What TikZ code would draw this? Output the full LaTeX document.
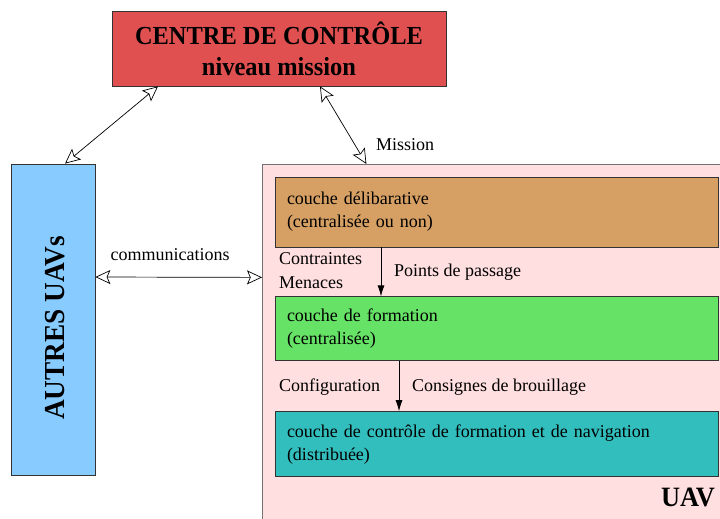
\documentclass[tikz,border=0pt]{standalone}
\usepackage{fontspec}
\setmainfont{Liberation Serif}
\newfontfamily\grasfont{Liberation Serif}[FakeStretch=0.94]
\usetikzlibrary{positioning,arrows.meta}

\definecolor{rougectl}{HTML}{E05050}
\definecolor{bleuuav}{HTML}{88CCFF}
\definecolor{roseuav}{HTML}{FFDFDF}
\definecolor{brundelib}{HTML}{D6A064}
\definecolor{vertform}{HTML}{66E266}
\definecolor{bleunav}{HTML}{33BEBE}

\begin{document}
\begin{tikzpicture}[x=1pt,y=-1pt,
	boite/.style={draw=black!80,line width=0.8pt,inner sep=0pt},
	couche/.style={boite,minimum width=443pt,inner xsep=12pt,text width=419pt,align=left,font=\fontsize{18}{23}\selectfont},
	double/.style={{Stealth[open,length=15pt,width=14pt,inset=3pt]}-{Stealth[open,length=15pt,width=14pt,inset=3pt]},line width=0.7pt},
	fleche/.style={-{Latex[length=11pt,width=7pt]},line width=0.7pt},
	txt/.style={font=\fontsize{18}{22}\selectfont,inner sep=0pt}]

	\clip (0,0) rectangle (720,519);
	\fill[white] (0,0) rectangle (720,519);

	\node[boite,fill=rougectl,minimum width=334pt,minimum height=75pt,align=center,
		font=\grasfont\bfseries\fontsize{26}{31}\selectfont] (centre) at (279,48.5) {CENTRE DE CONTRÔLE\\niveau mission};
	\node[boite,fill=bleuuav,minimum width=84pt,minimum height=311pt] (autres) at (53,319.5) {};
	\node[rotate=90,font=\grasfont\bfseries\fontsize{29}{30}\selectfont] (autreslbl) at (55,328) {AUTRES UAVs};

	\node[draw=black!55,line width=0.8pt,fill=roseuav,inner sep=0pt,minimum width=470pt,minimum height=370pt,
		anchor=north west] (uav) at (262,164) {};

	\node[couche,fill=brundelib,minimum height=70pt] (delib) at (496.5,212) {couche délibarative\\(centralisée ou non)};
	\node[couche,fill=vertform,minimum height=64pt] (form) [below=49pt of delib] {couche de formation\\(centralisée)};
	\node[couche,fill=bleunav,minimum height=65pt] (nav) [below=50pt of form] {couche de contrôle de formation et de navigation\\(distribuée)};

	\node[anchor=east,font=\grasfont\bfseries\fontsize{28}{30}\selectfont,inner sep=0pt] (uavlbl) at (715,497) {UAV};

	% liaisons
	\draw[double] ([xshift=-121pt]centre.south) -- ([xshift=12pt]autres.north);
	\draw[double] ([xshift=41pt]centre.south) -- ([xshift=-131pt]uav.north);
	\draw[double] ([yshift=42.5pt]autres.east) -- ([yshift=72pt]uav.west);

	\draw[fleche] ([xshift=-115.5pt]delib.south) -- ([xshift=-115.5pt]form.north);
	\draw[fleche] ([xshift=-97.5pt]form.south) -- ([xshift=-97.5pt]nav.north);

	% etiquettes
	\node[txt,anchor=west] (mission) at (376,145) {Mission};
	\node[txt] (comm) at (170,255) {communications};
	\node[txt,anchor=west] (contr) at (279,259) {Contraintes};
	\node[txt,anchor=west] (menac) at (279,283) {Menaces};
	\node[txt,anchor=west] (points) at (394,272) {Points de passage};
	\node[txt,anchor=west] (config) at (279,387) {Configuration};
	\node[txt,anchor=west] (consig) at (412,387) {Consignes de brouillage};
\end{tikzpicture}
\end{document}
